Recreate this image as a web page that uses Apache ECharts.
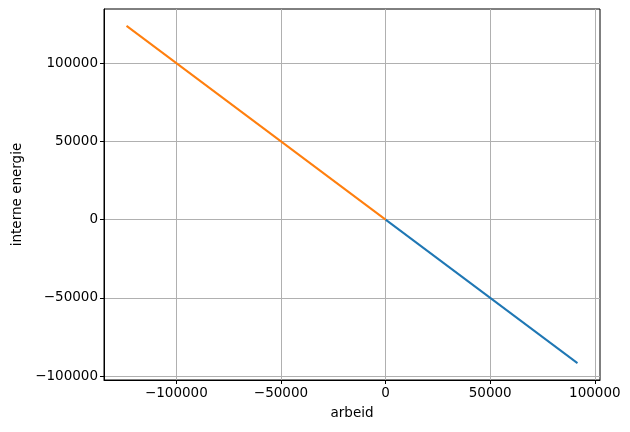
<!DOCTYPE html>
<html>
<head>
<meta charset="utf-8">
<script src="https://cdn.jsdelivr.net/npm/echarts@6/dist/echarts.min.js"></script>
<style>html,body{margin:0;padding:0;background:#fff;}#c{width:630px;height:432px;}</style>
</head>
<body>
<div id="c"></div>
<script>
const blueArbeid = [0, 91700];
const blueEnergie = [0, -91700];
const orangeArbeid = [-123800, 0];
const orangeEnergie = [123800, 0];
const xTicks = [-100000, -50000, 0, 50000, 100000];
const yTicks = [-100000, -50000, 0, 50000, 100000];
const xMin = -134575, xMax = 102475;
const yMin = -102475, yMax = 134575;

const font = 'DejaVu Sans';
const fmt = v => v < 0 ? '\u2212' + Math.abs(v) : String(v);
const chart = echarts.init(document.getElementById('c'), null, {renderer: 'canvas'});
function axis(name, min, max, ticks, isY) {
  return {
    type: 'value', name: name, nameLocation: 'middle', nameGap: isY ? 80 : 26,
    nameTextStyle: {fontFamily: font, fontSize: 13.5, color: '#000'},
    min: min, max: max,
    axisLine: {show: true, onZero: false, lineStyle: {color: '#000', width: 1}},
    axisTick: {show: true, inside: false, length: 4, customValues: ticks, lineStyle: {color: '#000', width: 1}},
    axisLabel: {show: true, customValues: ticks, formatter: fmt, fontFamily: font, fontSize: 13.5, color: '#000', margin: 6, showMinLabel: true, showMaxLabel: true},
    splitLine: {show: true, lineStyle: {color: '#b0b0b0', width: 1}}
  };
}
chart.setOption({
  animation: false,
  grid: {left: 104, right: 30, top: 9, bottom: 52, show: true, borderColor: '#000', borderWidth: 1, containLabel: false},
  xAxis: axis('arbeid', xMin, xMax, xTicks, false),
  yAxis: axis('interne energie', yMin, yMax, yTicks, true),
  series: [
    {type: 'line', data: blueArbeid.map((v, i) => [v, blueEnergie[i]]), showSymbol: false, lineStyle: {color: '#1f77b4', width: 2}, itemStyle: {color: '#1f77b4'}},
    {type: 'line', data: orangeArbeid.map((v, i) => [v, orangeEnergie[i]]), showSymbol: false, lineStyle: {color: '#ff7f0e', width: 2}, itemStyle: {color: '#ff7f0e'}}
  ]
});
</script>
</body>
</html>
